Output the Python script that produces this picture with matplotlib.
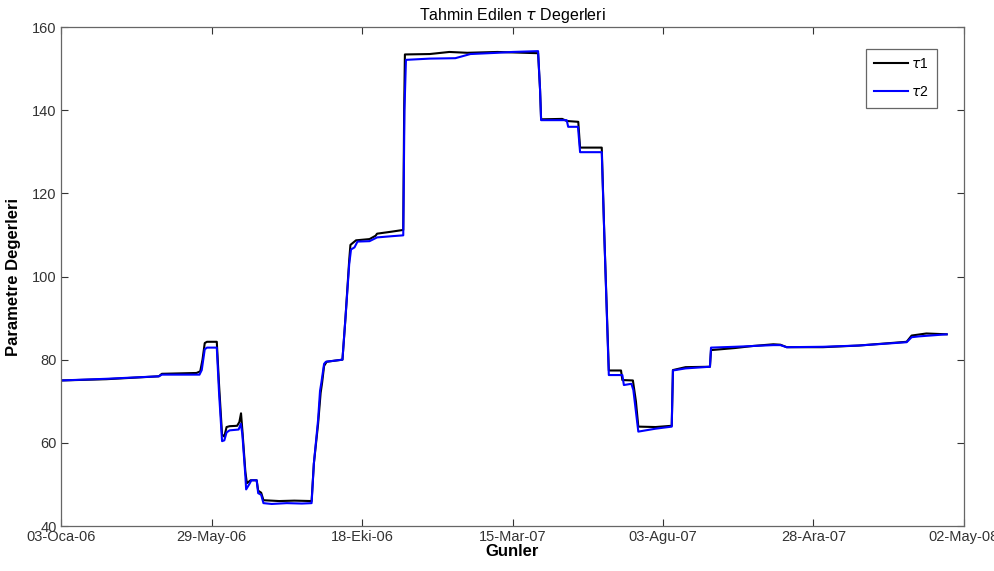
import numpy as np
import matplotlib
matplotlib.use("Agg")
import matplotlib.pyplot as plt

plt.rcParams['font.family'] = ['Liberation Sans', 'DejaVu Sans']

# trading-day index (x) and estimated tau values
gun1 = [0, 30, 65, 67, 90, 92.5, 94, 95.5, 97, 103.5, 105, 107, 108.5, 110, 112, 117,
        118.5, 119.6, 120.5, 122.5, 123.5, 126, 130, 131, 133, 134.5, 145, 155, 166.5,
        168, 170.8, 172.5, 173.5, 174.8, 176.5, 187, 189, 191.5, 192.3, 196, 205, 209,
        210, 220, 227.4, 228, 228.5, 245, 258, 270, 290, 317, 318.3, 319, 333, 336,
        343.7, 344.9, 359.3, 361, 363.2, 364, 372.1, 373, 380, 382, 383.6, 395, 405.8,
        406.6, 415, 431.2, 431.9, 447.8, 460, 473.3, 478, 482.2, 506.3, 530, 561.9,
        565.2, 575, 588.5]
tau1 = [75.0, 75.3, 76.0, 76.6, 76.8, 77.2, 80.0, 84.0, 84.3, 84.3, 74.0, 62.0, 61.5,
        63.8, 64.0, 64.1, 65.0, 67.1, 63.0, 53.0, 50.3, 51.0, 51.0, 48.5, 48.0, 46.2,
        46.0, 46.1, 46.0, 55.0, 64.5, 72.0, 74.5, 78.5, 79.5, 80.0, 90.0, 104.0, 107.6,
        108.7, 109.0, 109.8, 110.3, 110.8, 111.2, 140.0, 153.4, 153.5, 154.0, 153.8,
        154.0, 153.7, 145.0, 137.8, 137.9, 137.4, 137.2, 131.0, 131.0, 110.0, 86.0,
        77.4, 77.4, 75.1, 75.0, 70.0, 63.9, 63.8, 64.1, 77.5, 78.2, 78.3, 82.3, 82.8,
        83.3, 83.7, 83.6, 83.0, 83.0, 83.4, 84.3, 85.8, 86.3, 86.1]

gun2 = [0, 30, 65, 67, 92, 93.5, 95.5, 97, 103.5, 105, 107, 108.5, 110, 112, 118,
        119.5, 120.5, 122.5, 123, 125, 126.5, 130, 131, 133, 134.5, 140, 150, 160,
        166.5, 168, 170.8, 172.1, 173, 174.8, 176, 187, 189, 191.5, 192.7, 195, 197,
        205, 210, 220, 227.4, 228.2, 229.2, 245, 262, 272, 290, 300, 317, 318.3, 319,
        336, 337, 343.5, 344.9, 359.3, 361, 363.2, 364, 373, 374, 379, 380.3, 382.5,
        383.6, 395, 405.8, 406.6, 415, 431.2, 431.9, 447.8, 473.3, 478, 482.2, 506.3,
        530, 561.9, 565.2, 570, 588.5]
tau2 = [75.0, 75.4, 76.0, 76.4, 76.4, 77.5, 82.5, 82.9, 82.9, 72.0, 60.4, 60.6, 62.5,
        63.0, 63.2, 64.6, 62.0, 52.0, 48.8, 50.0, 51.0, 51.0, 47.9, 47.5, 45.5, 45.3,
        45.5, 45.4, 45.5, 55.0, 65.5, 72.5, 74.5, 79.0, 79.5, 80.0, 90.0, 103.0, 106.5,
        107.0, 108.4, 108.5, 109.4, 109.7, 109.9, 140.0, 152.1, 152.4, 152.5, 153.5,
        153.8, 154.0, 154.2, 145.0, 137.6, 137.6, 136.0, 136.0, 129.9, 129.9, 110.0,
        85.0, 76.3, 76.3, 73.9, 74.2, 72.7, 66.0, 62.7, 63.4, 63.9, 77.4, 77.9, 78.3,
        82.9, 83.1, 83.5, 83.5, 83.0, 83.1, 83.4, 84.2, 85.4, 85.6, 86.1]

tick_pos = [0, 100, 200, 300, 400, 500, 600]
tick_lab = ['03-Oca-06', '29-May-06', '18-Eki-06', '15-Mar-07',
            '03-Agu-07', '28-Ara-07', '02-May-08']

fig = plt.figure(figsize=(9.94, 5.71), dpi=100, facecolor='white')
ax = fig.add_axes([0.0614, 0.0788, 0.9084, 0.8739])

ax.plot(gun1, tau1, color='black', lw=1.5, label=r'$\tau$1')
ax.plot(gun2, tau2, color='#0000ff', lw=1.5, label=r'$\tau$2')

ax.set_xlim(0, 600)
ax.set_ylim(40, 160)
ax.set_xticks(tick_pos)
ax.set_xticklabels(tick_lab)
ax.set_yticks(range(40, 161, 20))
ax.tick_params(direction='in', top=True, right=True, length=5, width=0.8,
               labelsize=10.5, colors='#333333', pad=3)
for s in ax.spines.values():
    s.set_color('#666666')
    s.set_linewidth(0.9)

ax.set_title(r'Tahmin Edilen $\tau$ Degerleri', fontsize=11.5, pad=5)
ax.set_xlabel('Gunler', fontsize=12, fontweight='bold', labelpad=0)
ax.set_ylabel('Parametre Degerleri', fontsize=12, fontweight='bold', labelpad=8)

leg = ax.legend(loc='upper right', bbox_to_anchor=(937 / 994, 1 - 49 / 571),
                bbox_transform=fig.transFigure, borderaxespad=0, fancybox=False,
                framealpha=1, edgecolor='#666666', fontsize=10, handlelength=2.4,
                borderpad=0.6, labelspacing=1.0, handletextpad=0.25)
leg.get_frame().set_linewidth(0.9)

fig.savefig('out.png', dpi=100)
